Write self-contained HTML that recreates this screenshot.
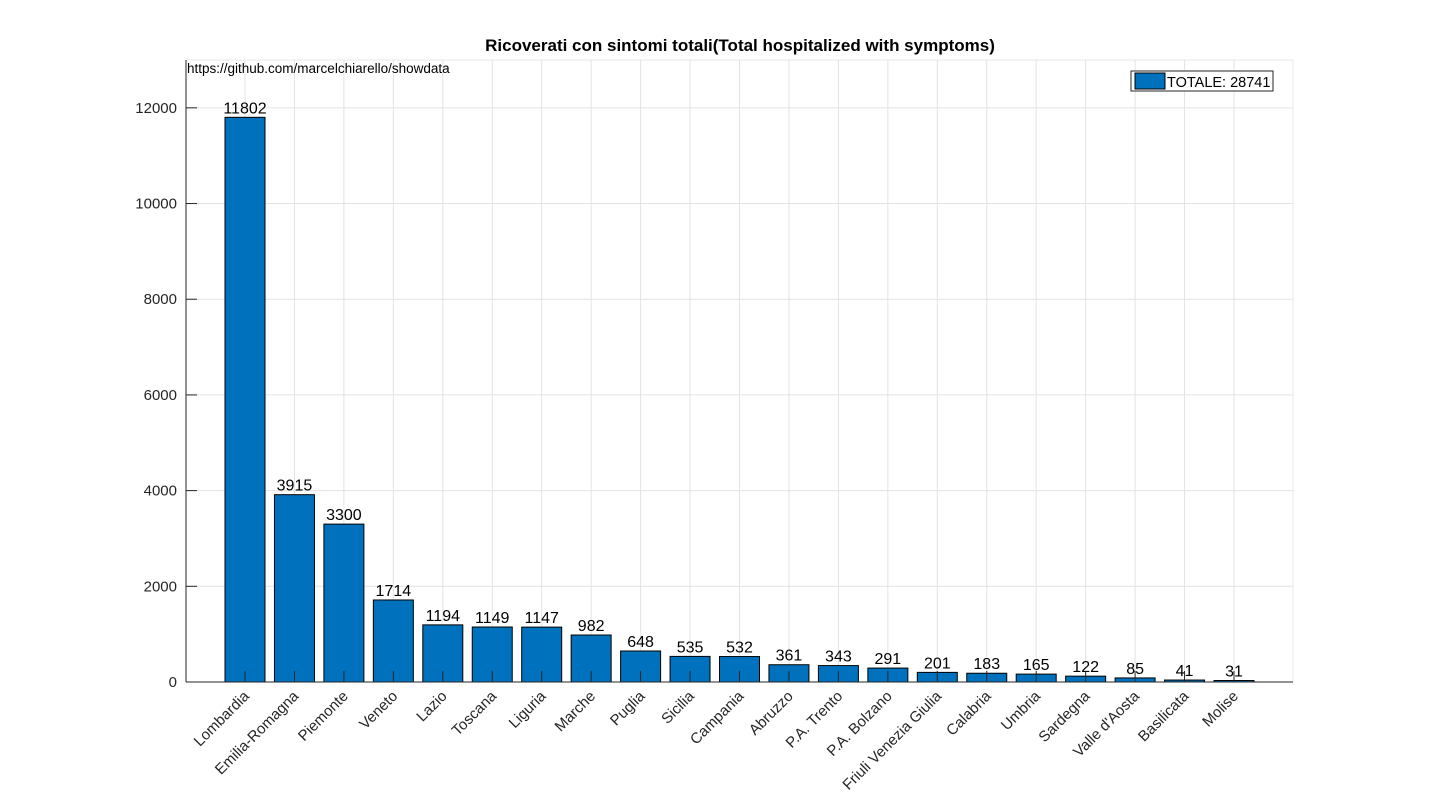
<!DOCTYPE html>
<html><head><meta charset="utf-8"><style>
body{margin:0;background:#fff;font-family:"Liberation Sans",Arial,sans-serif;}
svg text{font-family:"Liberation Sans",Arial,sans-serif;}
</style></head><body>
<svg id="c" width="1430" height="800" xmlns="http://www.w3.org/2000/svg"></svg>
<script>
const categories=["Lombardia","Emilia-Romagna","Piemonte","Veneto","Lazio","Toscana","Liguria","Marche","Puglia","Sicilia","Campania","Abruzzo","P.A. Trento","P.A. Bolzano","Friuli Venezia Giulia","Calabria","Umbria","Sardegna","Valle d'Aosta","Basilicata","Molise"];
const values=[11802,3915,3300,1714,1194,1149,1147,982,648,535,532,361,343,291,201,183,165,122,85,41,31];
const yTicks=[0,2000,4000,6000,8000,10000,12000];
const legendLabel="TOTALE: 28741";
const NS="http://www.w3.org/2000/svg";
const svg=document.getElementById('c');
const L=186,R=1293,T=60,B=682,yMax=13000;
const y=v=>B-(B-T)*v/yMax;
const x=i=>245+i*49.45;
const bw=40;
function mk(t,a,p){const e=document.createElementNS(NS,t);for(const k in a)e.setAttribute(k,a[k]);(p||svg).appendChild(e);return e;}
yTicks.forEach(v=>{const g=mk('line',{x1:L,x2:R,y1:y(v),y2:y(v),stroke:'#e3e3e3','stroke-width':1});

});
mk('line',{x1:L,x2:R,y1:T,y2:T,stroke:'#e8e8e8'});
categories.forEach((c,i)=>{const g=mk('line',{x1:x(i),x2:x(i),y1:T,y2:B,stroke:'#e3e3e3'});

});
mk('line',{x1:R,x2:R,y1:T,y2:B,stroke:'#e8e8e8'});
values.forEach((v,i)=>{
const r=mk('rect',{x:x(i)-bw/2,y:y(v),width:bw,height:B-y(v),fill:'#0072bd',stroke:'#000','stroke-width':1});


const t=mk('text',{x:x(i),y:y(v)-4,'text-anchor':'middle','font-size':16,fill:'#000'});t.textContent=v;


mk('line',{x1:x(i),x2:x(i),y1:B,y2:B-11,stroke:'#262626'});
const l=mk('text',{transform:`translate(${x(i)+5},${B+15}) rotate(-45)`,'text-anchor':'end','font-size':15,fill:'#262626'});l.textContent=categories[i];


});
const ax=mk('line',{x1:L,x2:L,y1:T,y2:B,stroke:'#262626'});


const bx=mk('line',{x1:L,x2:R,y1:B,y2:B,stroke:'#262626'});


yTicks.forEach(v=>{mk('line',{x1:L,x2:L+11,y1:y(v),y2:y(v),stroke:'#262626'});
const t=mk('text',{x:L-9,y:y(v)+5,'text-anchor':'end','font-size':15,fill:'#262626'});t.textContent=v;

});
const ti=mk('text',{x:740,y:51,'text-anchor':'middle','font-size':17,'font-weight':'bold',fill:'#000'});ti.textContent="Ricoverati con sintomi totali(Total hospitalized with symptoms)";


const u=mk('text',{x:187,y:73,'font-size':13.5,fill:'#000'});u.textContent="https://github.com/marcelchiarello/showdata";


const lg=mk('g',{});


mk('rect',{x:1131,y:71,width:142,height:20,fill:'#fff',stroke:'#262626'},lg);
mk('rect',{x:1135,y:73,width:30,height:16,fill:'#0072bd',stroke:'#000'},lg);
const lt=mk('text',{x:1167,y:87,'font-size':14.5,fill:'#000'},lg);lt.textContent=legendLabel;
</script>
</body></html>
